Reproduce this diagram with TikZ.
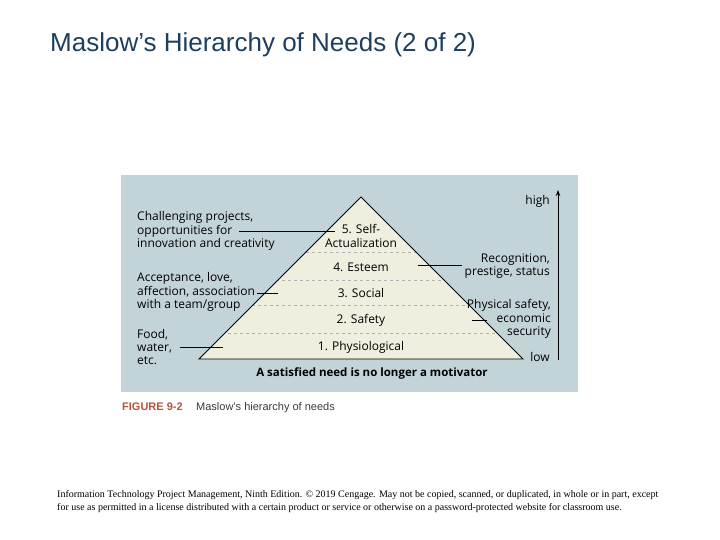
\documentclass[tikz,border=0pt]{standalone}
\usepackage{fontspec}
\setmainfont{Liberation Serif}
\setsansfont{Liberation Sans}
\newfontfamily\figfont{Open Sans}
\usetikzlibrary{positioning, arrows.meta}
\definecolor{titleblue}{HTML}{1C3F60}
\definecolor{panelblue}{HTML}{C3D4D8}
\definecolor{pyrfill}{HTML}{EEEFDE}
\definecolor{figred}{HTML}{B5533C}
\definecolor{capgray}{HTML}{3A3A3A}

\begin{document}
\begin{tikzpicture}[x=1pt, y=-1pt,
    figtext/.style={font=\figfont\fontsize{12}{13.3}\selectfont, inner sep=0pt},
    level/.style={dashed, black!30, line width=0.4pt},
    leader/.style={line width=0.8pt, black}]
    \useasboundingbox (0,0) rectangle (720,540);

    % Title
    \node[anchor=base west, inner sep=0pt, text=titleblue,
        font=\sffamily\fontsize{26}{30}\selectfont] (title) at (50,52)
        {Maslow’s Hierarchy of Needs (2 of 2)};

    % Panel and pyramid
    \fill[panelblue] (121,175) rectangle (578,392);
    \coordinate (apex) at (361,197);
    \coordinate (baseL) at (199,359);
    \coordinate (baseR) at (523,359);
    \fill[pyrfill] (apex) -- (baseL) -- (baseR) -- cycle;
    \begin{scope}
        \clip (apex) -- (baseL) -- (baseR) -- cycle;
        \foreach \y in {252,280,305,333}
            \draw[level] (150,\y) -- (560,\y);
    \end{scope}
    \draw[line width=0.9pt] (apex) -- (baseL) -- (baseR) -- cycle;

    % Levels
    \node[figtext, align=center] (selfact) at (361,236) {5. Self-\\Actualization};
    \node[figtext] (esteem) at (361,267) {4. Esteem};
    \node[figtext] (social) at (361,293) {3. Social};
    \node[figtext] (safety) at (361,320) {2. Safety};
    \node[figtext] (physio) at (361,347) {1. Physiological};

    % Notes on the left
    \node[figtext, align=left, anchor=west] (challenge) at (137,231)
        {Challenging projects,\\opportunities for\\innovation and creativity};
    \node[figtext, align=left, anchor=west] (accept) at (137,292)
        {Acceptance, love,\\affection, association\\with a team/group};
    \node[figtext, align=left, anchor=west] (food) at (137,347)
        {Food,\\water,\\etc.};

    % Notes on the right
    \node[figtext, align=right, anchor=east] (recog) at (550,266)
        {Recognition,\\prestige, status};
    \node[figtext, align=right, anchor=east] (physsafe) at (551,319)
        {Physical safety,\\economic\\security};
    \node[figtext, anchor=east] (high) at (550,201) {high};
    \node[figtext, anchor=east] (low) at (550,357) {low};

    % Leader lines
    \coordinate (chalA) at (239,231);
    \coordinate (chalB) at (335,231);
    \coordinate (accB) at (278,293);
    \coordinate (foodA) at (180,347);
    \coordinate (foodB) at (223,347);
    \coordinate (recB) at (418,265);
    \coordinate (physA) at (472,320);
    \coordinate (physB) at (487,320);
    \draw[leader] (chalA) -- (chalB);
    \draw[leader] ([xshift=2pt]accept.east |- accB) -- (accB);
    \draw[leader] (foodA) -- (foodB);
    \draw[leader] ([xshift=-3pt]recog.west |- recB) -- (recB);
    \draw[leader] (physA) -- (physB);

    % Scale arrow
    \coordinate (arrlow) at (558,360);
    \coordinate (arrhigh) at (558,190);
    \draw[line width=0.9pt, -{Stealth[length=6pt, width=4.5pt]}] (arrlow) -- (arrhigh);

    \node[figtext, font=\figfont\bfseries\fontsize{11.5}{13.5}\selectfont] (motiv) at (372,373)
        {A satisfied need is no longer a motivator};

    % Caption
    \node[anchor=base west, inner sep=0pt, text=figred,
        font=\sffamily\bfseries\fontsize{11}{13}\selectfont] (fignum) at (122,410) {FIGURE 9-2};
    \node[anchor=base west, inner sep=0pt, text=capgray,
        font=\sffamily\fontsize{11}{13}\selectfont] (figcap) at (196,410) {Maslow’s hierarchy of needs};

    % Footer
    \node[anchor=base west, inner sep=0pt, align=left,
        font=\rmfamily\fontsize{10}{12.5}\selectfont] (footer) at (57,510)
        {Information Technology Project Management, Ninth Edition. © 2019 Cengage. May not be copied, scanned, or duplicated, in whole or in part, except\\
        for use as permitted in a license distributed with a certain product or service or otherwise on a password-protected website for classroom use.};
\end{tikzpicture}
\end{document}
